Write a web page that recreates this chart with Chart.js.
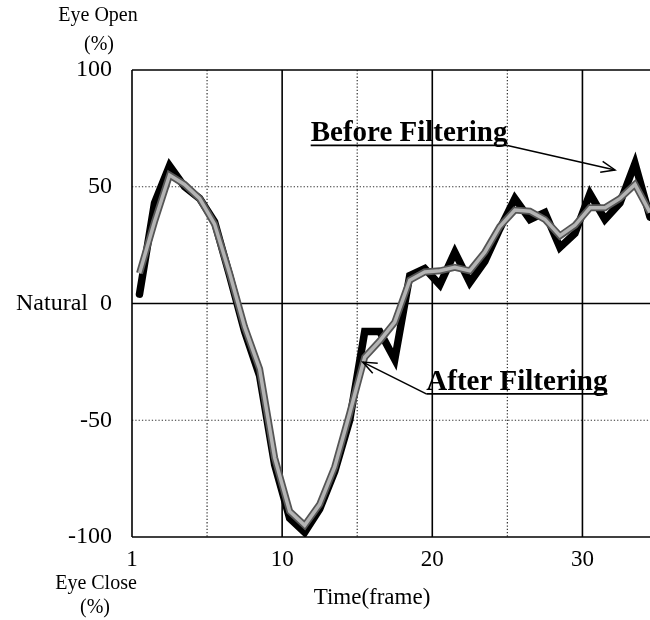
<!DOCTYPE html>
<html><head><meta charset="utf-8">
<script src="https://cdn.jsdelivr.net/npm/chart.js@4.4.0/dist/chart.umd.min.js"></script>
<style>html,body{margin:0;padding:0;background:#fff;}#wrap{width:650px;height:620px;position:relative;}</style>
</head><body><div id="wrap"><canvas id="c" width="650" height="620"></canvas></div>
<script>
// ---- data ----
const frames = [1,2,3,4,5,6,7,8,9,10,11,12,13,14,15,16,17,18,19,20,21,22,23,24,25,26,27,28,29,30,31,32,33,34,35];
const beforeFiltering = [4,43,59,50,45,35,12,-12,-31,-69,-92,-98,-88,-72,-50,-12,-12,-24,12,15,8,22,9,18,32,45,36,39,24,30,47,36,43,60,37];
const afterFiltering  = [13,35,55,51,45,34,13,-10,-28,-66,-89,-95,-86,-70,-47,-23,-16,-8,10,13.5,14,15.5,14,22,33,40,39.5,36,29,33.5,41,41,45,51,39];
const yTickValues = [-100,-50,0,50,100];
const yTickLabels = ['-100','-50','Natural  0','50','100'];
const xTickValues = [0.5,5.5,10.5,15.5,20.5,25.5,30.5];
const xTickLabels = ['1','','10','','20','','30'];
const ySolid = [100,0,-100], yDotted = [50,-50];
const xSolid = [0.5,10.5,20.5,30.5], xDotted = [5.5,15.5,25.5];

const SERIF = "'Liberation Serif','Times New Roman',serif";

const gridPlugin = {
  id:'gridPlugin',
  beforeDatasetsDraw(chart){
    const {ctx, chartArea:a, scales:{x,y}} = chart;
    ctx.save();
    const line=(x1,y1,x2,y2,dotted)=>{
      ctx.beginPath();
      ctx.setLineDash(dotted?[1.3,2]:[]);
      ctx.lineWidth = dotted?1.2:1.6;
      ctx.strokeStyle = dotted?'#333':'#000';
      ctx.moveTo(x1,y1);ctx.lineTo(x2,y2);ctx.stroke();
    };
    yDotted.forEach(v=>{const p=y.getPixelForValue(v);line(a.left,p,a.right,p,true);});
    xDotted.forEach(v=>{const p=x.getPixelForValue(v);line(p,a.top,p,a.bottom,true);});
    ySolid.forEach(v=>{const p=y.getPixelForValue(v);line(a.left,p,a.right,p,false);});
    xSolid.forEach(v=>{const p=x.getPixelForValue(v);line(p,a.top,p,a.bottom,false);});
    ctx.restore();
  }
};

function arrow(ctx,x1,y1,x2,y2){
  ctx.beginPath();ctx.moveTo(x1,y1);ctx.lineTo(x2,y2);ctx.stroke();
  const ang=Math.atan2(y2-y1,x2-x1), L=15, s=0.38;
  ctx.beginPath();
  ctx.moveTo(x2-L*Math.cos(ang-s),y2-L*Math.sin(ang-s));
  ctx.lineTo(x2,y2);
  ctx.lineTo(x2-L*Math.cos(ang+s),y2-L*Math.sin(ang+s));
  ctx.stroke();
}

const annotations = [
  {text:'Before Filtering', at:{x:12.4,y:69.4}, arrowFrom:'end',   arrowTo:{x:32.67,y:57.2}},
  {text:'After Filtering',  at:{x:20.1,y:-37},  arrowFrom:'start', arrowTo:{x:15.87,y:-25.1}}
];

const annotPlugin = {
  id:'annotPlugin',
  afterDatasetsDraw(chart){
    const {ctx, scales:{x,y}} = chart;
    ctx.save();
    ctx.font = 'bold 29px '+SERIF;
    ctx.fillStyle='#000';ctx.strokeStyle='#000';
    ctx.textBaseline='alphabetic';ctx.textAlign='left';
    annotations.forEach(a=>{
      const px=x.getPixelForValue(a.at.x), py=y.getPixelForValue(a.at.y);
      const w=ctx.measureText(a.text).width;
      ctx.fillText(a.text,px,py);
      ctx.lineWidth=1.7;
      ctx.beginPath();ctx.moveTo(px,py+4);ctx.lineTo(px+w,py+4);ctx.stroke();
      const sx = a.arrowFrom==='end'? px+w : px;
      ctx.lineWidth=1.5;
      arrow(ctx,sx,py+4,x.getPixelForValue(a.arrowTo.x),y.getPixelForValue(a.arrowTo.y));
    });
    ctx.restore();
  }
};

const outerText = [
  {t:'Eye Open', x:98, y:16, size:20},
  {t:'(%)', x:99, y:45, size:20},
  {t:'Eye Close', x:96, y:584, size:20},
  {t:'(%)', x:95, y:608, size:20},
  {t:'Time(frame)', x:372, y:598, size:23}
];
const textPlugin = {
  id:'textPlugin',
  afterDraw(chart){
    const ctx=chart.ctx;ctx.save();
    ctx.fillStyle='#000';ctx.textAlign='center';ctx.textBaseline='middle';
    outerText.forEach(o=>{ctx.font=o.size+'px '+SERIF;ctx.fillText(o.t,o.x,o.y);});
    ctx.restore();
  }
};

const pts = arr => frames.map((f,i)=>({x:f,y:arr[i]}));

new Chart(document.getElementById('c'),{
  type:'line',
  data:{datasets:[
    {label:'After Filtering', data:pts(afterFiltering), borderColor:'#b4b4b4', borderWidth:3.5, pointRadius:0, tension:0, borderJoinStyle:'miter'},
    {label:'After Filtering outline', data:pts(afterFiltering), borderColor:'#555', borderWidth:7, pointRadius:0, tension:0, borderJoinStyle:'miter'},
    {label:'Before Filtering', data:pts(beforeFiltering), borderColor:'#000', borderWidth:7.5, pointRadius:0, tension:0, borderJoinStyle:'miter', borderCapStyle:'round'}
  ]},
  options:{
    responsive:false, animation:false, devicePixelRatio:1,
    layout:{padding:{top:70,left:0,right:0,bottom:0}},
    plugins:{legend:{display:false},tooltip:{enabled:false}},
    scales:{
      x:{type:'linear',min:0.5,max:35,
        afterBuildTicks(s){s.ticks=xTickValues.map(v=>({value:v}));},
        afterFit(s){s.height=83;},
        grid:{display:false,drawTicks:false},border:{display:false},
        ticks:{autoSkip:false,maxRotation:0,padding:9,color:'#000',font:{family:SERIF,size:23},
          callback:(v)=>{const i=xTickValues.indexOf(v);return i>=0?xTickLabels[i]:'';}}
      },
      y:{type:'linear',min:-100,max:100,
        afterBuildTicks(s){s.ticks=yTickValues.map(v=>({value:v}));},
        afterFit(s){s.width=132;},
        grid:{display:false,drawTicks:false},border:{display:false},
        ticks:{padding:20,color:'#000',font:{family:SERIF,size:24},
          callback:(v)=>{const i=yTickValues.indexOf(v);return i>=0?yTickLabels[i]:'';}}
      }
    }
  },
  plugins:[gridPlugin,annotPlugin,textPlugin]
});
</script></body></html>
